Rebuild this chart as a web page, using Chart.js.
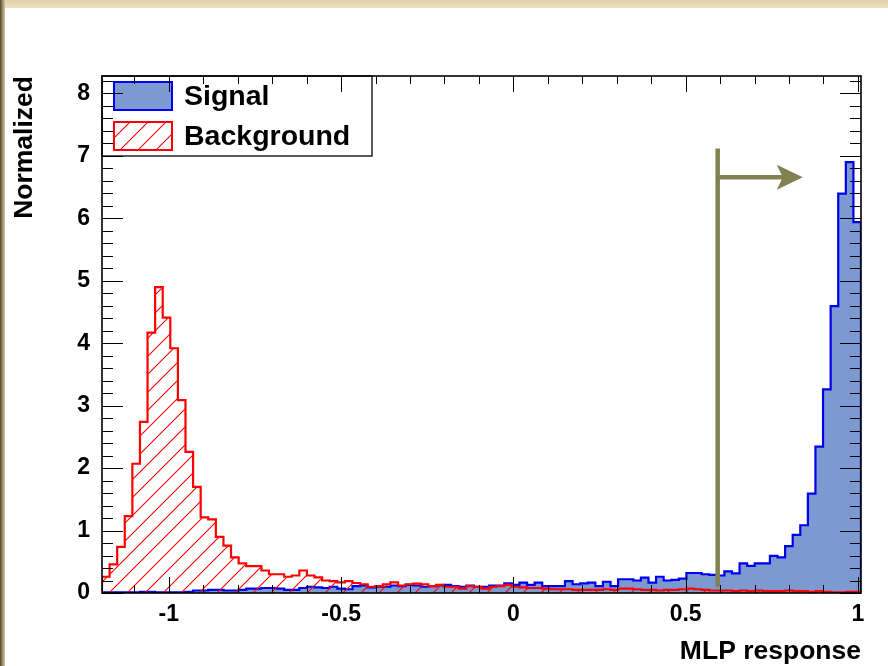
<!DOCTYPE html>
<html>
<head>
<meta charset="utf-8">
<title>MLP response</title>
<script src="https://cdn.jsdelivr.net/npm/chart.js@4.4.0/dist/chart.umd.min.js"></script>
<style>
body{margin:0;background:#fff;}
#wrap{position:relative;width:888px;height:666px;overflow:hidden;background:#fff;}
#myChart{position:absolute;left:0;top:0;}
#topstrip{position:absolute;left:0;top:0;width:888px;height:8px;background:linear-gradient(#e0d2a8,#ece2c4);}
#leftstrip{position:absolute;left:0;top:0;width:5px;height:666px;background:linear-gradient(90deg,#4f4535,#9c8b66,#d6c79f);}
</style>
</head>
<body>
<div id="wrap">
<canvas id="myChart" width="888" height="666"></canvas>
<div id="topstrip"></div>
<div id="leftstrip"></div>
</div>
<script>
// histogram binning (100 bins)
var binLow = -1.194
var binHigh = 1.009
var nBins = 100

var signalValues = [
  0.01,0.01,0.01,0.01,0.01, 0.02,0.02,0.01,0.01,0.01,
  0.01,0.02,0.04,0.04,0.05, 0.05,0.04,0.04,0.05,0.07,
  0.07,0.08,0.08,0.07,0.05, 0.05,0.08,0.10,0.09,0.08,
  0.10,0.07,0.06,0.11,0.12, 0.09,0.10,0.10,0.12,0.11,
  0.13,0.12,0.10,0.11,0.12, 0.13,0.11,0.10,0.12,0.10,
  0.10,0.12,0.12,0.155,0.13, 0.165,0.13,0.165,0.11,0.11,
  0.11,0.19,0.14,0.155,0.165, 0.11,0.18,0.11,0.22,0.22,
  0.20,0.245,0.165,0.26,0.20, 0.21,0.23,0.32,0.32,0.30,
  0.29,0.28,0.345,0.315,0.475, 0.435,0.475,0.475,0.595,0.57,
  0.75,0.93,1.085,1.59,2.345, 3.26,4.595,6.395,6.90,5.94
]
var backgroundValues = [
  0.26,0.46,0.74,1.23,2.07, 2.74,4.17,4.90,4.41,3.92,
  3.09,2.26,1.70,1.21,1.18, 0.90,0.76,0.57,0.475,0.43,
  0.43,0.36,0.30,0.30,0.26, 0.28,0.36,0.28,0.25,0.20,
  0.19,0.17,0.19,0.16,0.14, 0.10,0.11,0.14,0.17,0.12,
  0.14,0.15,0.14,0.11,0.13, 0.10,0.10,0.07,0.11,0.10,
  0.07,0.10,0.11,0.13,0.10, 0.09,0.08,0.08,0.07,0.06,
  0.06,0.06,0.05,0.05,0.05, 0.05,0.06,0.05,0.07,0.07,
  0.06,0.05,0.05,0.04,0.05, 0.05,0.06,0.07,0.06,0.05,
  0.04,0.04,0.04,0.03,0.04, 0.03,0.04,0.03,0.03,0.03,
  0.04,0.03,0.03,0.02,0.03, 0.02,0.01,0.01,0.02,0.02
]
var seriesLabels = ['Signal', 'Background']
var xTickValues = [-1, -0.5, 0, 0.5, 1]
var yTickValues = [0, 1, 2, 3, 4, 5, 6, 7, 8]
var yTop = 8.28
var xTitle = 'MLP response'
var yTitle = 'Normalized'

// cut marker
var cutValue = 0.593
var cutTop = 7.12
var cutBottom = 0.1
var arrowY = 6.66
var arrowTip = 0.84

var FONT = "'Liberation Sans', Arial, Helvetica, sans-serif"
var sigFill = '#7d99d1'
var sigLine = '#0000ee'
var bkgLine = '#ff0000'
var cutColor = '#818151'

// turn bin contents into step points (left edge of each bin + closing edge)
function toSteps(vals){
  var w = (binHigh - binLow) / nBins
  var pts = [{x: binLow, y: 0}, {x: binLow, y: vals[0]}]
  for (var i = 1; i < vals.length; i++) {
    pts.push({x: binLow + i * w, y: vals[i]})
  }
  pts.push({x: binHigh, y: 0})
  return pts
}

var ctx = document.getElementById('myChart').getContext('2d')

function makeHatch(){
  var c = document.createElement('canvas')
  c.width = 18; c.height = 18
  var g = c.getContext('2d')
  g.strokeStyle = bkgLine
  g.lineWidth = 1.1
  g.beginPath()
  g.moveTo(-2, 20); g.lineTo(20, -2)
  g.moveTo(-2, 2); g.lineTo(2, -2)
  g.moveTo(16, 20); g.lineTo(20, 16)
  g.stroke()
  return ctx.createPattern(c, 'repeat')
}
var hatch = makeHatch()

// ROOT-like frame, inside ticks, legend box and the cut arrow
var rootDecor = {
  id: 'rootDecor',
  afterDatasetsDraw: function(chart){
    var c = chart.ctx
    var a = chart.chartArea
    var xs = chart.scales.x
    var ys = chart.scales.y
    c.save()

    // cut line + arrow
    var cx = xs.getPixelForValue(cutValue)
    var ay = ys.getPixelForValue(arrowY)
    var tipX = xs.getPixelForValue(arrowTip)
    c.strokeStyle = cutColor
    c.fillStyle = cutColor
    c.lineWidth = 4.5
    c.beginPath()
    c.moveTo(cx, ys.getPixelForValue(cutTop))
    c.lineTo(cx, ys.getPixelForValue(cutBottom))
    c.moveTo(cx, ay)
    c.lineTo(tipX - 18, ay)
    c.stroke()
    c.beginPath()
    c.moveTo(tipX, ay)
    c.lineTo(tipX - 26, ay - 12.5)
    c.lineTo(tipX - 20, ay)
    c.lineTo(tipX - 26, ay + 12.5)
    c.closePath()
    c.fill()

    // legend
    var lx = a.left, ly = a.top, lw = 270, lh = 80
    c.fillStyle = '#fff'
    c.fillRect(lx, ly, lw, lh)
    c.strokeStyle = '#000'
    c.lineWidth = 1.3
    c.strokeRect(lx, ly, lw, lh)
    var rows = [
      {fill: sigFill, line: sigLine, y: ly + 6},
      {fill: hatch, line: bkgLine, y: ly + 46}
    ]
    c.font = 'bold 28.5px ' + FONT
    c.textBaseline = 'middle'
    c.textAlign = 'left'
    for (var i = 0; i < rows.length; i++) {
      var r = rows[i]
      c.fillStyle = r.fill
      c.fillRect(lx + 12, r.y, 58, 28)
      c.strokeStyle = r.line
      c.lineWidth = 2
      c.strokeRect(lx + 12, r.y, 58, 28)
      c.fillStyle = '#000'
      c.fillText(seriesLabels[i], lx + 82, r.y + 15)
    }

    // ticks on all four sides
    c.strokeStyle = '#000'
    c.lineWidth = 1
    c.beginPath()
    for (var k = -11; k <= 10; k++) {
      var v = k / 10
      var px = Math.round(xs.getPixelForValue(v)) + 0.5
      var len = (k % 5 === 0) ? 16 : 8
      c.moveTo(px, a.bottom); c.lineTo(px, a.bottom - len)
      c.moveTo(px, a.top); c.lineTo(px, a.top + len)
    }
    for (var j = 0; j * 0.2 <= yTop; j++) {
      var py = Math.round(ys.getPixelForValue(j * 0.2)) + 0.5
      var ylen = (j % 5 === 0) ? 21 : 11
      c.moveTo(a.left, py); c.lineTo(a.left + ylen, py)
      c.moveTo(a.right, py); c.lineTo(a.right - ylen, py)
    }
    c.stroke()

    // frame
    c.lineWidth = 1.6
    c.strokeRect(a.left, a.top, a.right - a.left, a.bottom - a.top)
    c.restore()
  }
}

var tickFont = {family: FONT, size: 23, weight: 'bold'}
var titleFont = {family: FONT, size: 26.5, weight: 'bold'}

var myChart = new Chart(ctx, {
  type: 'line',
  data: {
    datasets: [{
      label: seriesLabels[0],
      data: toSteps(signalValues),
      borderColor: sigLine,
      backgroundColor: sigFill,
      fill: 'origin',
      borderWidth: 2.2,
      stepped: 'before',
      pointRadius: 0,
      order: 1
    }, {
      label: seriesLabels[1],
      data: toSteps(backgroundValues),
      borderColor: bkgLine,
      backgroundColor: hatch,
      fill: 'origin',
      borderWidth: 2.2,
      stepped: 'before',
      pointRadius: 0,
      order: 0
    }]
  },
  options: {
    responsive: false,
    animation: false,
    devicePixelRatio: 1,
    layout: {padding: {top: 76, right: 27, left: 0, bottom: 0}},
    plugins: {legend: {display: false}, tooltip: {enabled: false}},
    scales: {
      x: {
        type: 'linear',
        min: binLow,
        max: binHigh,
        grid: {display: false, drawTicks: false},
        border: {display: false},
        ticks: {font: tickFont, color: '#000', padding: 8, maxRotation: 0,
          callback: function(v){ return String(v) }},
        afterBuildTicks: function(s){ s.ticks = xTickValues.map(function(v){ return {value: v} }) },
        afterFit: function(s){ s.height = 73 },
        title: {display: true, text: xTitle, align: 'end', font: titleFont, color: '#000', padding: {top: 0, bottom: -2}}
      },
      y: {
        type: 'linear',
        min: 0,
        max: yTop,
        grid: {display: false, drawTicks: false},
        border: {display: false},
        ticks: {font: tickFont, color: '#000', padding: 12,
          callback: function(v){ return String(v) }},
        afterBuildTicks: function(s){ s.ticks = yTickValues.map(function(v){ return {value: v} }) },
        afterFit: function(s){ s.width = 102 },
        title: {display: true, text: yTitle, align: 'end', font: titleFont, color: '#000', padding: {top: 9, bottom: 0}}
      }
    }
  },
  plugins: [rootDecor]
});
</script>
</body>
</html>
